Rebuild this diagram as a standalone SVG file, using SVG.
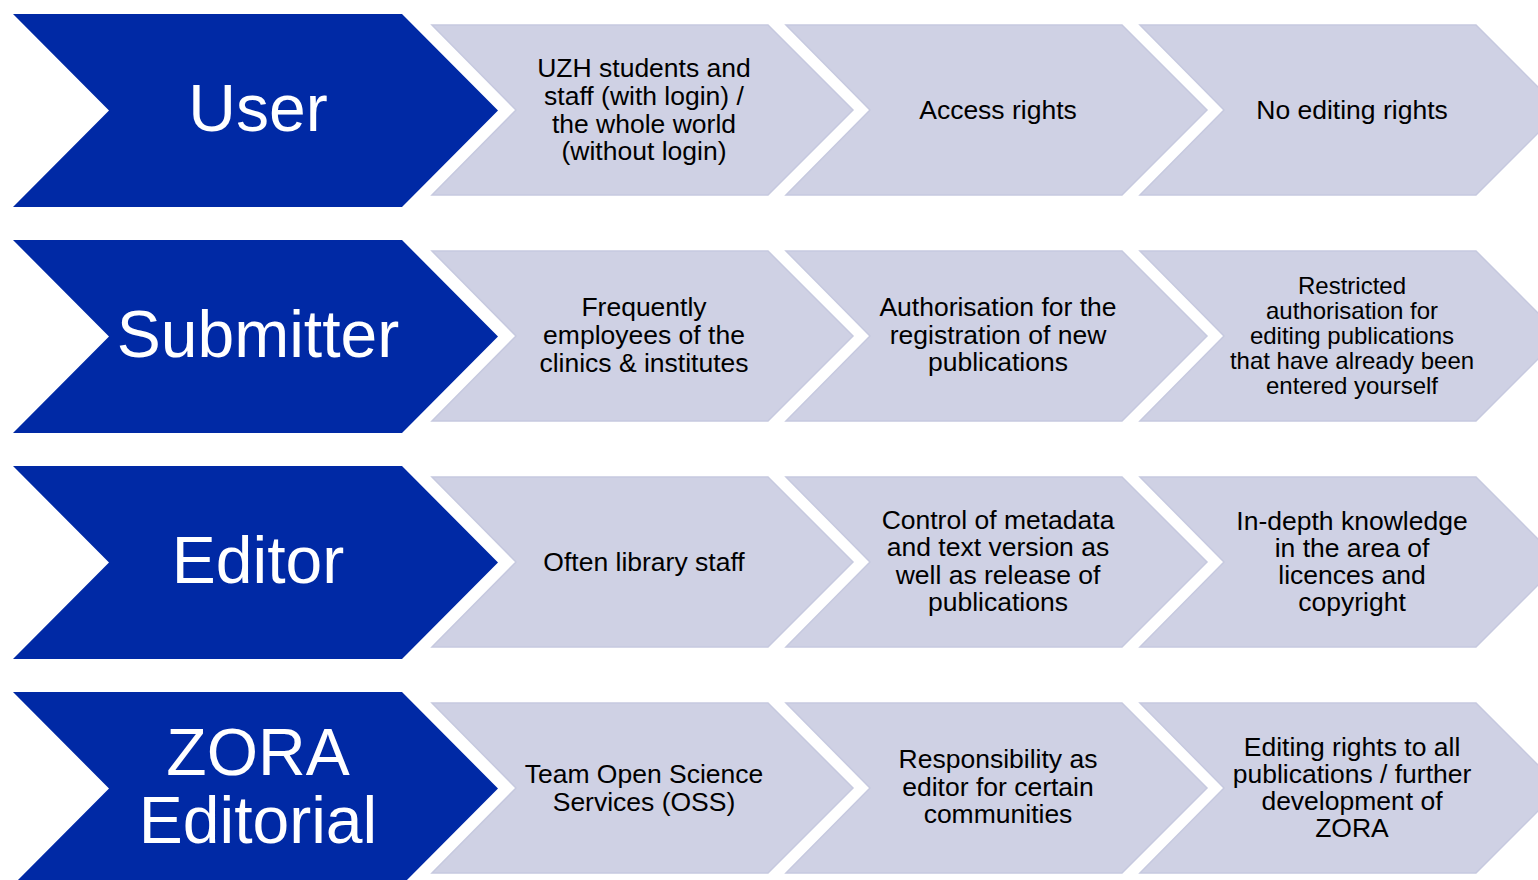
<svg xmlns="http://www.w3.org/2000/svg" width="1538" height="880" viewBox="0 0 1538 880">
<style>
.role{fill:#0029a5}
.step{fill:#cfd1e4;stroke:#c6c9df;stroke-width:1.5}
.rt{font-family:"Liberation Sans",Arial,sans-serif;font-size:66px;fill:#ffffff;text-anchor:middle}
.st{font-family:"Liberation Sans",Arial,sans-serif;font-size:26.5px;fill:#000000;text-anchor:middle}
.sm{font-size:24px}
</style>
<defs>
<path id="blue" d="M13,0 H402 L498,96.5 L402,193 H13 L109,96.5 Z"/>
<path id="gray" d="M0,0 H336 L421,85 L336,170 H0 L84,85 Z"/>
</defs>
<rect width="1538" height="880" fill="#ffffff"/>
<g id="connectors"></g>

<!-- Row 1 -->
<g id="role-user"><use href="#blue" class="role" y="14"/><text class="rt" x="258" y="131">User</text></g>
<g id="user-who"><use href="#gray" class="step" x="432" y="25"/>
<text class="st" x="644" y="77">UZH students and</text><text class="st" x="644" y="105">staff (with login) /</text><text class="st" x="644" y="133">the whole world</text><text class="st" x="644" y="160">(without login)</text></g>
<g id="user-what"><use href="#gray" class="step" x="786" y="25"/>
<text class="st" x="998" y="119">Access rights</text></g>
<g id="user-rights"><use href="#gray" class="step" x="1140" y="25"/>
<text class="st" x="1352" y="119">No editing rights</text></g>

<!-- Row 2 -->
<g id="role-submitter"><use href="#blue" class="role" y="240"/><text class="rt" x="258" y="357">Submitter</text></g>
<g id="submitter-who"><use href="#gray" class="step" x="432" y="251"/>
<text class="st" x="644" y="316">Frequently</text><text class="st" x="644" y="344">employees of the</text><text class="st" x="644" y="372">clinics &amp; institutes</text></g>
<g id="submitter-what"><use href="#gray" class="step" x="786" y="251"/>
<text class="st" x="998" y="316">Authorisation for the</text><text class="st" x="998" y="344">registration of new</text><text class="st" x="998" y="371">publications</text></g>
<g id="submitter-rights"><use href="#gray" class="step" x="1140" y="251"/>
<text class="st sm" x="1352" y="294">Restricted</text><text class="st sm" x="1352" y="319">authorisation for</text><text class="st sm" x="1352" y="344">editing publications</text><text class="st sm" x="1352" y="369">that have already been</text><text class="st sm" x="1352" y="394">entered yourself</text></g>

<!-- Row 3 -->
<g id="role-editor"><use href="#blue" class="role" y="466"/><text class="rt" x="258" y="583">Editor</text></g>
<g id="editor-who"><use href="#gray" class="step" x="432" y="477"/>
<text class="st" x="644" y="571">Often library staff</text></g>
<g id="editor-what"><use href="#gray" class="step" x="786" y="477"/>
<text class="st" x="998" y="529">Control of metadata</text><text class="st" x="998" y="556">and text version as</text><text class="st" x="998" y="584">well as release of</text><text class="st" x="998" y="611">publications</text></g>
<g id="editor-rights"><use href="#gray" class="step" x="1140" y="477"/>
<text class="st" x="1352" y="530">In-depth knowledge</text><text class="st" x="1352" y="557">in the area of</text><text class="st" x="1352" y="584">licences and</text><text class="st" x="1352" y="611">copyright</text></g>

<!-- Row 4 -->
<g id="role-zora"><use href="#blue" class="role" y="692"/><text class="rt" x="258" y="775">ZORA</text><text class="rt" x="258" y="843">Editorial</text></g>
<g id="zora-who"><use href="#gray" class="step" x="432" y="703"/>
<text class="st" x="644" y="783">Team Open Science</text><text class="st" x="644" y="811">Services (OSS)</text></g>
<g id="zora-what"><use href="#gray" class="step" x="786" y="703"/>
<text class="st" x="998" y="768">Responsibility as</text><text class="st" x="998" y="796">editor for certain</text><text class="st" x="998" y="823">communities</text></g>
<g id="zora-rights"><use href="#gray" class="step" x="1140" y="703"/>
<text class="st" x="1352" y="756">Editing rights to all</text><text class="st" x="1352" y="783">publications / further</text><text class="st" x="1352" y="810">development of</text><text class="st" x="1352" y="837">ZORA</text></g>
</svg>
